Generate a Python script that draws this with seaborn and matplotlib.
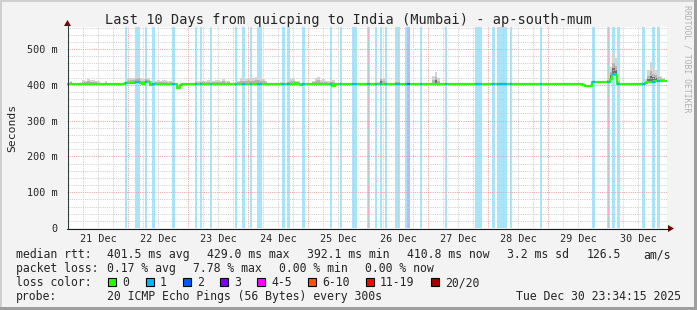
import numpy as np
import pandas as pd
import matplotlib
matplotlib.use("Agg")
import matplotlib.pyplot as plt
import seaborn as sns
from matplotlib.patches import Rectangle, Polygon
from matplotlib.lines import Line2D

# ---------------- data ----------------
title = "Last 10 Days from quicping to India (Mumbai) - ap-south-mum"
day_labels = ["21 Dec", "22 Dec", "23 Dec", "24 Dec", "25 Dec",
              "26 Dec", "27 Dec", "28 Dec", "29 Dec", "30 Dec"]
first_midnight_h = 0.43          # hours from window start to 21 Dec 00:00
ytick_values = [0, 100, 200, 300, 400, 500]
ytick_labels = ["0", "100 m", "200 m", "300 m", "400 m", "500 m"]

# hourly median RTT (ms), 240 hours, one row per day
median_ms = [
    401.5, 401.5, 401.5, 401.5, 401.5, 401.5, 401.5, 401.5, 401.5, 401.5, 401.5, 401.5,
    401.5, 401.5, 401.5, 401.5, 401.5, 401.5, 401.5, 401.5, 401.5, 401.5, 403.5, 404.5,
    404.5, 405.0, 405.0, 408.0, 409.0, 404.0, 403.0, 407.0, 408.0, 398.5, 401.5, 401.5,
    401.5, 401.5, 401.5, 401.5, 401.5, 401.5, 401.5, 401.5, 392.1, 400.0, 401.5, 401.5,
    401.5, 401.5, 401.5, 401.5, 401.5, 401.5, 401.5, 401.5, 401.5, 401.5, 401.5, 401.5,
    401.5, 401.5, 401.5, 401.5, 401.5, 401.5, 401.5, 401.5, 401.5, 401.5, 401.5, 401.5,
    401.5, 401.5, 401.5, 401.5, 401.5, 401.5, 401.5, 401.5, 401.5, 401.5, 401.5, 401.5,
    401.5, 401.5, 401.5, 401.5, 401.5, 401.5, 403.0, 404.0, 403.0, 399.0, 401.5, 401.5,
    401.5, 401.5, 401.5, 401.5, 401.5, 401.5, 401.5, 401.5, 401.5, 401.5, 397.5, 401.5,
    401.5, 401.5, 401.5, 401.5, 401.5, 401.5, 401.5, 401.5, 401.5, 401.5, 401.5, 401.5,
    401.5, 401.5, 401.5, 401.5, 401.5, 401.5, 401.5, 401.5, 401.5, 401.5, 401.5, 401.5,
    401.5, 401.5, 401.5, 401.5, 401.5, 401.5, 401.5, 401.5, 401.5, 401.5, 401.5, 401.5,
    401.5, 401.5, 401.5, 401.5, 401.5, 401.5, 401.5, 401.5, 401.5, 401.5, 401.5, 401.5,
    401.5, 401.5, 401.5, 401.5, 401.5, 401.5, 401.5, 401.5, 401.5, 401.5, 401.5, 401.5,
    401.5, 401.5, 401.5, 401.5, 401.5, 401.5, 401.5, 401.5, 401.5, 401.5, 401.5, 401.5,
    401.5, 401.5, 401.5, 401.5, 401.5, 401.5, 401.5, 401.5, 401.5, 401.5, 401.5, 401.5,
    401.5, 401.5, 401.5, 401.5, 401.5, 401.5, 401.5, 401.5, 401.5, 401.5, 401.5, 401.5,
    401.5, 401.5, 399.0, 396.0, 395.5, 398.0, 408.0, 407.5, 407.5, 407.5, 407.5, 407.5,
    408.0, 416.0, 429.0, 427.0, 402.0, 401.5, 401.5, 401.5, 401.5, 401.5, 401.5, 401.5,
    401.5, 401.5, 401.5, 404.0, 407.0, 408.0, 409.0, 412.0, 412.0, 412.0, 412.0, 410.8,
]

# hourly highest ping (top of the smoke), ms
smoke_top_ms = [
    406, 411, 405, 401.5, 401.5, 404, 414, 412, 416, 413, 414, 412,
    410, 401.5, 401.5, 410, 401.5, 401.5, 401.5, 401.5, 401.5, 401.5, 406, 412,
    415, 418, 420, 424, 425, 418, 415, 422, 418, 410, 405, 412,
    413, 411, 414, 413, 410, 412, 410, 405, 400, 404, 401.5, 401.5,
    401.5, 401.5, 405, 414, 410, 412, 411, 410, 413, 409, 412, 414,
    413, 412, 416, 410, 411, 401.5, 401.5, 405, 412, 418, 420, 417,
    419, 418, 420, 423, 422, 418, 416, 412, 401.5, 401.5, 401.5, 401.5,
    405, 409, 409, 405, 414, 417, 415, 412, 410, 406, 401.5, 401.5,
    401.5, 405, 412, 418, 421, 414, 415, 412, 410, 413, 414, 405,
    401.5, 401.5, 401.5, 401.5, 401.5, 401.5, 401.5, 401.5, 401.5, 401.5, 401.5, 401.5,
    401.5, 401.5, 401.5, 409, 409, 428, 420, 405, 401.5, 401.5, 401.5, 411,
    411, 401.5, 401.5, 401.5, 401.5, 401.5, 401.5, 401.5, 401.5, 401.5, 401.5, 401.5,
    401.5, 405, 425, 437, 420, 401.5, 401.5, 401.5, 401.5, 401.5, 401.5, 401.5,
    401.5, 406, 406, 405, 401.5, 401.5, 401.5, 401.5, 401.5, 401.5, 401.5, 401.5,
    401.5, 401.5, 401.5, 401.5, 401.5, 401.5, 401.5, 401.5, 401.5, 401.5, 401.5, 401.5,
    401.5, 401.5, 401.5, 401.5, 401.5, 401.5, 401.5, 401.5, 401.5, 401.5, 401.5, 405,
    405, 401.5, 401.5, 401.5, 401.5, 401.5, 401.5, 401.5, 401.5, 401.5, 401.5, 401.5,
    401.5, 401.5, 401, 398, 398, 401, 410, 410, 410, 410, 410, 410,
    420, 450, 488, 475, 420, 401.5, 401.5, 401.5, 401.5, 401.5, 401.5, 401.5,
    401.5, 401.5, 401.5, 415, 440, 465, 450, 440, 430, 425, 418, 412,
]

# hours with packet loss and their loss level (pings lost out of 20)
loss_hours = [23, 27, 28, 31, 34, 42, 51, 53, 57, 67, 70, 73, 76, 77, 86, 88, 94,
              105, 109, 114, 115, 120, 123, 125, 127, 131, 132, 135, 136, 141, 151,
              163, 164, 165, 170, 172, 173, 174, 175, 177, 189, 210, 216, 218, 220,
              230, 234, 236]
loss_levels = [1, 1, 1, 1, 1, 1, 1, 1, 1, 1, 1, 1, 1, 1, 1, 1, 1,
               1, 1, 1, 1, 1, 1, 1, 1, 1, 1, 1, 2, 1, 1,
               1, 1, 1, 1, 1, 1, 1, 1, 1, 1, 1, 1, 1, 1,
               1, 1, 1]

loss_legend_labels = ["0", "1", "2", "3", "4-5", "6-10", "11-19", "20/20"]
loss_legend_colors = ["#26ff00", "#00b8ff", "#0059ff", "#7e00ff",
                      "#ff00ff", "#ff5500", "#ff0000", "#a10000"]
band_colors = {1: "#a9e5fa", 2: "#b0bcff"}

stats_line1 = [("median rtt:", 16), ("401.5 ms avg", 107), ("429.0 ms max", 207),
               ("392.1 ms min", 307), ("410.8 ms now", 407), ("3.2 ms sd", 507),
               ("126.5", 587), ("am/s", 643)]
stats_line2 = [("packet loss:", 16), ("0.17 % avg", 107), ("7.78 % max", 193),
               ("0.00 % min", 279), ("0.00 % now", 365)]
probe_text = "20 ICMP Echo Pings (56 Bytes) every 300s"
date_text = "Tue Dec 30 23:34:15 2025"

# ---------------- layout ----------------
W, H = 697, 310
MONO = "DejaVu Sans Mono"
sns.set_style("white")
plt.rcParams["font.family"] = [MONO, "DejaVu Sans"]

fig = plt.figure(figsize=(W / 100, H / 100), dpi=100)
fig.patch.set_facecolor("#f3f3f3")


def fx(px):
    return px / W


def fy(py):
    return 1 - py / H


X0, X1, YT, YB = 67, 667, 27, 228
ax = fig.add_axes([fx(X0), fy(YB), (X1 - X0) / W, (YB - YT) / H])
ax.set_facecolor("white")
ymax = 561.5
ax.set_xlim(0, 240)
ax.set_ylim(0, ymax)

hours = np.arange(len(median_ms))
med = np.array(median_ms, dtype=float)
top = np.array(smoke_top_ms, dtype=float)

# loss bands
for h, lvl in zip(loss_hours, loss_levels):
    ax.axvspan(h, h + 1, color=band_colors[lvl], lw=0, zorder=0.5)

# smoke (grey shades)
ext = np.clip(top - med, 0, None)
ax.bar(hours, ext, bottom=med, width=1.0, align="edge", color="#d6d6d6", lw=0, zorder=1.1)
ax.bar(hours, ext * 0.55, bottom=med, width=1.0, align="edge", color="#b4b4b4", lw=0, zorder=1.2)
big = ext > 25
ax.bar(hours[big], ext[big] * 0.3, bottom=med[big], width=1.0, align="edge",
       color="#6e6e6e", lw=0, zorder=1.3)

# grid
DOT = (0, (1, 1.2))
for v in range(20, int(ymax) + 1, 20):
    major = v % 100 == 0
    ax.axhline(v, color="#e8a0a0" if major else "#cdcdcd", lw=0.72, ls=DOT, zorder=1.5)
for k in range(0, 41):
    h = first_midnight_h + 6 * k
    if h > 240:
        break
    major = k % 4 == 0
    ax.axvline(h, color="#e8a0a0" if major else "#cdcdcd", lw=0.72, ls=DOT, zorder=1.5)

# median line, coloured by loss
df = pd.DataFrame({"hour": np.append(hours, 240), "rtt": np.append(med, med[-1])})
sns.lineplot(data=df, x="hour", y="rtt", color=loss_legend_colors[0], lw=1.6,
             drawstyle="steps-post", ax=ax, zorder=3)
for h, lvl in zip(loss_hours, loss_levels):
    ax.plot([h, h + 1], [med[h], med[h]], color=loss_legend_colors[lvl], lw=1.6,
            solid_capstyle="butt", zorder=3.5)

ax.set_xlabel("")
ax.set_ylabel("")
for s in ax.spines.values():
    s.set_visible(False)
ax.set_xticks([])
ax.set_yticks(ytick_values)
ax.set_yticklabels(ytick_labels, family=MONO, fontsize=7.3)
ax.tick_params(axis="y", length=2, width=0.7, color="#c04040", pad=5)

# x labels at noon of each day
for i, lab in enumerate(day_labels):
    xc = first_midnight_h + 12 + 24 * i
    ax.text(xc, 0, lab, transform=ax.get_xaxis_transform(), ha="center", va="baseline",
            family=MONO, fontsize=7.3)
for t in ax.texts:
    x, _ = t.get_position()
    t.set_transform(matplotlib.transforms.blended_transform_factory(ax.transData, fig.transFigure))
    t.set_position((x, fy(241.5)))

# axes lines and arrows
fig.add_artist(Line2D([fx(X0), fx(670)], [fy(228.5), fy(228.5)], color="#1a1a1a", lw=0.8))
fig.add_artist(Line2D([fx(X0 + 0.5), fx(X0 + 0.5)], [fy(229), fy(24)], color="#2c3c3c", lw=0.8))
fig.add_artist(Polygon([[fx(668), fy(225)], [fx(674), fy(228.5)], [fx(668), fy(232)]],
                       closed=True, color="#800000", lw=0))
fig.add_artist(Polygon([[fx(64), fy(26)], [fx(67.5), fy(20)], [fx(71), fy(26)]],
                       closed=True, color="#800000", lw=0))

# title and labels
fig.text(0.5, fy(24), title, ha="center", va="baseline", family=MONO, fontsize=9.8)
fig.text(fx(12), fy(127.5), "Seconds", rotation=90, ha="center", va="center",
         family=MONO, fontsize=8.2)
fig.text(fx(687), fy(5), "RRDTOOL / TOBI OETIKER", rotation=-90, ha="center", va="top",
         family=MONO, fontsize=5.9, color="#b0b0b0")

# legend block
FS = 8.3
for txt, x in stats_line1:
    fig.text(fx(x), fy(258), txt, ha="left", va="baseline", family=MONO, fontsize=FS)
for txt, x in stats_line2:
    fig.text(fx(x), fy(272), txt, ha="left", va="baseline", family=MONO, fontsize=FS)
fig.text(fx(16), fy(286), "loss color:", ha="left", va="baseline", family=MONO, fontsize=FS)
sw_x = [108, 146, 183, 220, 257, 308, 366, 431]
for lab, col, x in zip(loss_legend_labels, loss_legend_colors, sw_x):
    fig.add_artist(Rectangle((fx(x), fy(286)), 8 / W, 8 / H, transform=fig.transFigure,
                             facecolor=col, edgecolor="black", lw=0.8))
    fig.text(fx(x + 14), fy(286), lab, ha="left", va="baseline", family=MONO, fontsize=FS)
fig.text(fx(16), fy(300), "probe:", ha="left", va="baseline", family=MONO, fontsize=FS)
fig.text(fx(107), fy(300), probe_text, ha="left", va="baseline", family=MONO, fontsize=FS)
fig.text(fx(681), fy(300), date_text, ha="right", va="baseline", family=MONO, fontsize=FS)

# 3D frame
fig.add_artist(Rectangle((0, fy(2)), 1, 2 / H, transform=fig.transFigure, color="#cfcfcf", lw=0))
fig.add_artist(Rectangle((0, 0), 2 / W, 1, transform=fig.transFigure, color="#cfcfcf", lw=0))
fig.add_artist(Rectangle((0, 0), 1, 3 / H, transform=fig.transFigure, color="#9e9e9e", lw=0))
fig.add_artist(Rectangle((fx(694), 0), 3 / W, 1, transform=fig.transFigure, color="#9e9e9e", lw=0))

fig.savefig("out.png", dpi=100, facecolor=fig.get_facecolor())
